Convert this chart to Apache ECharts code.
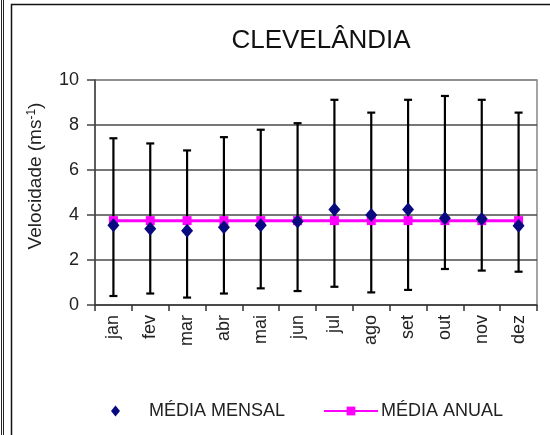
<!DOCTYPE html>
<html>
<head>
<meta charset="utf-8">
<script src="https://cdn.jsdelivr.net/npm/echarts@6/dist/echarts.min.js"></script>
<style>
  html, body { margin: 0; padding: 0; background: #fff; }
  #chart { width: 550px; height: 435px; }
</style>
</head>
<body>
<div id="chart"></div>
<script>
const months = ["jan", "fev", "mar", "abr", "mai", "jun", "jul", "ago", "set", "out", "nov", "dez"];
const monthlyMean = [3.54, 3.39, 3.30, 3.46, 3.54, 3.71, 4.25, 4.00, 4.25, 3.86, 3.82, 3.52];
const monthlyMax = [7.41, 7.18, 6.87, 7.46, 7.79, 8.08, 9.12, 8.55, 9.12, 9.29, 9.12, 8.55];
const monthlyMin = [0.40, 0.51, 0.33, 0.51, 0.74, 0.62, 0.81, 0.56, 0.67, 1.60, 1.53, 1.48];
const annualMean = [3.75, 3.75, 3.75, 3.75, 3.75, 3.75, 3.75, 3.75, 3.75, 3.75, 3.75, 3.75];

const FONT = "'Liberation Sans', Arial, sans-serif";
const chart = echarts.init(document.getElementById("chart"));

const errorData = months.map((m, i) => [i, monthlyMin[i], monthlyMax[i]]);

chart.setOption({
  animation: false,
  textStyle: { fontFamily: FONT },
  title: {
    text: "CLEVELÂNDIA",
    left: 316,
    textAlign: "center",
    top: 23,
    textStyle: { fontSize: 26, fontWeight: "normal", color: "#111", fontFamily: FONT },
  },
  grid: {
    left: 95, right: 13, top: 80, bottom: 130,
    show: true, borderColor: "#888", borderWidth: 1.5,
  },
  legend: [
    {
      data: ["MÉDIA MENSAL"],
      left: 106, top: 397, padding: 5,
      icon: "diamond",
      itemWidth: 9, itemHeight: 11,
      textStyle: { fontSize: 18, color: "#222", fontFamily: FONT, padding: [0, 0, 0, 24] },
    },
    {
      data: ["MÉDIA ANUAL"],
      left: 318, top: 397, padding: 5,
      itemWidth: 54, itemHeight: 11,
      textStyle: { fontSize: 18, color: "#222", fontFamily: FONT, padding: [0, 0, 0, -2] },
    },
  ],
  xAxis: {
    type: "category",
    data: months,
    boundaryGap: true,
    axisLine: { lineStyle: { color: "#333", width: 1.5 } },
    axisTick: { show: true, length: 6, lineStyle: { color: "#333", width: 1.5 } },
    axisLabel: { rotate: 90, fontSize: 18, color: "#222", margin: 10, fontFamily: FONT },
  },
  yAxis: {
    type: "value",
    min: 0, max: 10, interval: 2,
    axisLine: { show: true, lineStyle: { color: "#444", width: 1.5 } },
    axisTick: { show: true, length: 8, lineStyle: { color: "#444", width: 1.5 } },
    axisLabel: { fontSize: 18, color: "#222", margin: 16, fontFamily: FONT },
    splitLine: { lineStyle: { color: ["#888", "#4a4a4a", "#4a4a4a", "#4a4a4a", "#4a4a4a"], width: 1.5 } },
  },
  graphic: [
    { type: "line", shape: { x1: 1.5, y1: 0, x2: 1.5, y2: 435 }, style: { stroke: "#222", lineWidth: 1 } },
    { type: "line", shape: { x1: 3.5, y1: 0, x2: 3.5, y2: 435 }, style: { stroke: "#222", lineWidth: 1 } },
    { type: "rect", shape: { x: 11.5, y: 4.5, width: 600, height: 500 }, style: { fill: "none", stroke: "#111", lineWidth: 1.5 } },
    {
      type: "text",
      x: 36, y: 176,
      rotation: Math.PI / 2,
      style: {
        text: "Velocidade (ms{sup|-1})",
        font: "19px " + FONT,
        fill: "#222",
        align: "center",
        verticalAlign: "middle",
        rich: { sup: { fontSize: 12, fontFamily: FONT, fill: "#222", padding: [0, 0, 9, 0] } },
      },
    },
  ],
  series: [
    {
      name: "erro",
      type: "custom",
      z: 2,
      data: errorData,
      renderItem: (params, api) => {
        const i = api.value(0);
        const lo = api.coord([i, api.value(1)]);
        const hi = api.coord([i, api.value(2)]);
        const hw = 4;
        const style = { stroke: "#000", lineWidth: 2.2 };
        return {
          type: "group",
          children: [
            { type: "line", shape: { x1: lo[0], y1: lo[1], x2: hi[0], y2: hi[1] }, style },
            { type: "line", shape: { x1: hi[0] - hw, y1: hi[1], x2: hi[0] + hw, y2: hi[1] }, style },
            { type: "line", shape: { x1: lo[0] - hw, y1: lo[1], x2: lo[0] + hw, y2: lo[1] }, style },
          ],
        };
      },
    },
    {
      name: "MÉDIA ANUAL",
      type: "line",
      z: 3,
      data: annualMean,
      symbol: "rect",
      symbolSize: 9,
      itemStyle: { color: "#ff00ff" },
      lineStyle: { color: "#ff00ff", width: 3 },
    },
    {
      name: "MÉDIA MENSAL",
      type: "scatter",
      z: 4,
      data: monthlyMean,
      symbol: "diamond",
      symbolSize: [12, 14],
      itemStyle: { color: "#0a0a80", opacity: 1 },
    },
  ],
});
</script>
</body>
</html>
